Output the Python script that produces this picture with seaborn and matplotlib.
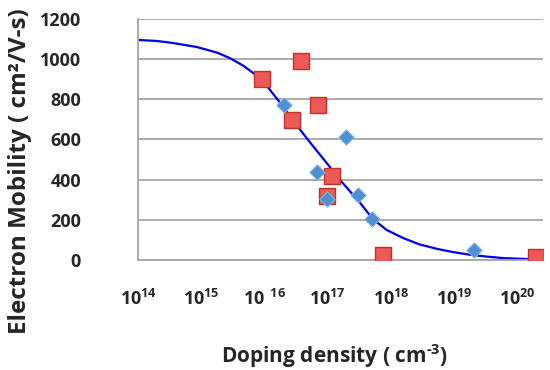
import numpy as np
import pandas as pd
import matplotlib
matplotlib.use("Agg")
import matplotlib.pyplot as plt
import seaborn as sns

# === DATA ===
# fitted mobility curve : log10(doping) / mobility
fit_log_n = [14.0, 14.3, 14.55, 14.93, 15.25, 15.45, 15.66, 15.88, 16.04, 16.29, 16.51,
             16.72, 16.99, 17.19, 17.51, 17.71, 17.93, 18.19, 18.45, 18.74, 18.98,
             19.24, 19.5, 19.77, 20.19, 20.4]
fit_mobility = [1095, 1090, 1080, 1060, 1032, 1005, 968, 917, 865, 765, 670,
                585, 480, 400, 285, 205, 150, 110, 78, 55, 40,
                27, 18, 10, 5, 3]

# measured points, set 1 (red squares)
sq_log_n = [15.96, 16.57, 16.84, 16.43, 17.06, 16.99, 17.87, 20.29]
sq_mobility = [900, 990, 770, 695, 420, 320, 25, 15]

# measured points, set 2 (blue diamonds)
dia_log_n = [16.31, 17.29, 16.83, 16.99, 17.48, 17.70, 19.31]
dia_mobility = [770, 610, 440, 305, 325, 205, 50]

decades = [14, 15, 16, 17, 18, 19, 20]
y_ticks = [0, 200, 400, 600, 800, 1000, 1200]

# === STYLE ===
sns.set_style("white")
plt.rcParams["font.family"] = ["Open Sans", "DejaVu Sans"]
plt.rcParams["font.weight"] = "bold"
plt.rcParams["mathtext.fontset"] = "custom"
plt.rcParams["mathtext.rm"] = "Open Sans:bold"
plt.rcParams["mathtext.bf"] = "Open Sans:bold"

fit_df = pd.DataFrame({"N": 10.0 ** np.array(fit_log_n), "mu": fit_mobility})
sq_df = pd.DataFrame({"N": 10.0 ** np.array(sq_log_n), "mu": sq_mobility})
dia_df = pd.DataFrame({"N": 10.0 ** np.array(dia_log_n), "mu": dia_mobility})

fig, ax = plt.subplots(figsize=(5.5, 3.7), dpi=100)
fig.subplots_adjust(left=0.251, right=0.987, top=0.949, bottom=0.297)

ax.set_xscale("log")
sns.lineplot(data=fit_df, x="N", y="mu", ax=ax, color="#0000ee", linewidth=1.6,
             zorder=2, sort=False)
sns.scatterplot(data=sq_df, x="N", y="mu", ax=ax, marker="s", s=120,
                color="#ec5a57", edgecolor="#c0302c", linewidth=1.0, zorder=3)
sns.scatterplot(data=dia_df, x="N", y="mu", ax=ax, marker="D", s=60,
                color="#4d8fd0", edgecolor="#7fb4e6", linewidth=0.8, zorder=4)

ax.set_xlim(1e14, 10 ** 20.4)
ax.set_ylim(0, 1200)
ax.set_yticks(y_ticks)
ax.set_yticklabels([str(v) for v in y_ticks], fontsize=13, fontweight="bold")
ax.set_xticks([10.0 ** d for d in decades])
xlabels = []
for d in decades:
    if d == 16:
        xlabels.append(r"$\mathbf{10\ ^{16}}$")
    else:
        xlabels.append(r"$\mathbf{10^{%d}}$" % d)
ax.set_xticklabels(xlabels, fontsize=13)
ax.minorticks_off()

ax.grid(axis="y", color="#a6a6a6", linewidth=1.3)
ax.set_axisbelow(True)
for side in ["top", "right"]:
    ax.spines[side].set_visible(False)
for side in ["left", "bottom"]:
    ax.spines[side].set_color("#a6a6a6")
    ax.spines[side].set_linewidth(1.3)
ax.tick_params(axis="x", direction="out", length=5, width=1.2, color="#a6a6a6", pad=16)
ax.tick_params(axis="y", direction="out", length=5, width=1.2, color="#a6a6a6", pad=36)

ax.set_xlabel("Doping density ( cm$^{\\mathbf{\\text{-}3}}$)", fontsize=15,
              fontweight="bold", va="baseline")
ax.xaxis.set_label_coords(0.486, -0.427)
ax.set_ylabel("Electron Mobility ( cm²/V-s)", fontsize=17.5, fontweight="bold")
ax.yaxis.set_label_coords(-0.262, 0.37)

plt.savefig("out.png", dpi=100)
plt.close()
